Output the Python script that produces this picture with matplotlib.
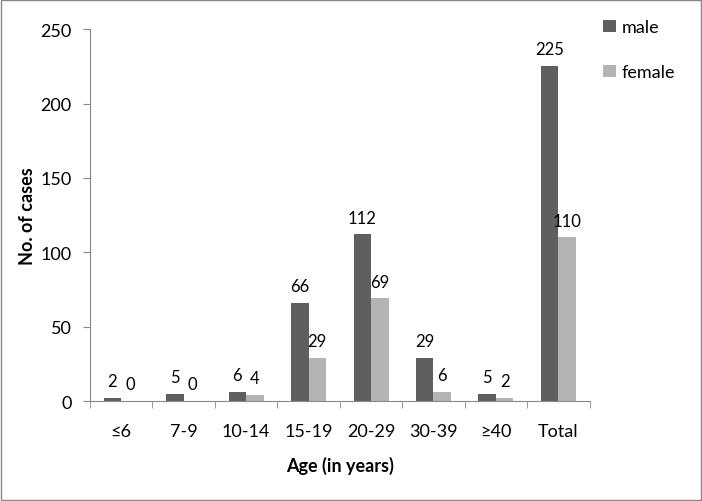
import matplotlib.pyplot as plt
import numpy as np
from matplotlib.patches import Rectangle

plt.rcParams['font.family'] = ['Lato', 'DejaVu Sans']

# data
age_groups = ['≤6', '7-9', '10-14', '15-19', '20-29', '30-39', '≥40', 'Total']
male = [2, 5, 6, 66, 112, 29, 5, 225]
female = [0, 0, 4, 29, 69, 6, 2, 110]

fig = plt.figure(figsize=(7.02, 5.02), dpi=100)
ax = fig.add_axes([0.128, 0.199, 0.712, 0.741])

x = np.arange(len(age_groups))
w = 0.28
b1 = ax.bar(x - w / 2, male, w, color='#5f5f5f', label='male')
b2 = ax.bar(x + w / 2, female, w, color='#b4b4b4', label='female')

for bars in (b1, b2):
    for r in bars:
        ax.text(r.get_x() + r.get_width() / 2, r.get_height() + 6, str(int(r.get_height())),
                ha='center', va='bottom', fontsize=12)

ax.set_xlim(-0.5, len(age_groups) - 0.5)
ax.set_ylim(0, 250)
ax.set_yticks([0, 50, 100, 150, 200, 250])
ax.set_xticks(x)
ax.set_xticklabels(age_groups)
ax.set_xticks(np.arange(-0.5, len(age_groups)), minor=True)
ax.tick_params(axis='x', which='major', length=0, pad=16, labelsize=13)
ax.tick_params(axis='x', which='minor', length=5, color='#888888')
ax.tick_params(axis='y', length=5, color='#888888', labelsize=13, pad=8)

for s in ['top', 'right']:
    ax.spines[s].set_visible(False)
for s in ['left', 'bottom']:
    ax.spines[s].set_color('#888888')

ax.set_ylabel('No. of cases', fontsize=13, fontweight='bold', labelpad=3)
ax.set_xlabel('Age (in years)', fontsize=13, fontweight='bold', labelpad=12)

ax.legend(loc='upper left', bbox_to_anchor=(0.995, 1.07), frameon=False, fontsize=13,
          labelspacing=1.6, handlelength=0.7, handleheight=0.7, handletextpad=0.3)

fig.add_artist(Rectangle((0.002, 0.002), 0.996, 0.996, transform=fig.transFigure,
                         fill=False, edgecolor='#888888', linewidth=1))

plt.savefig('out.png', dpi=100)
